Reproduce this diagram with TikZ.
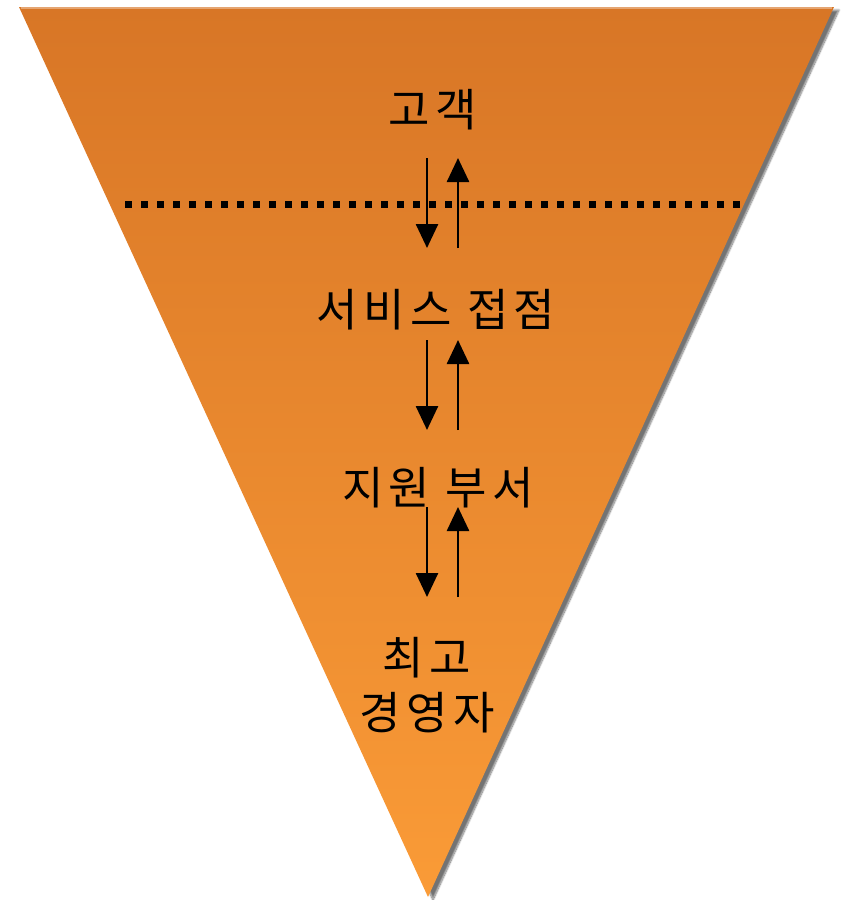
\documentclass[tikz,border=0pt]{standalone}
\usepackage{fontspec}
\newfontfamily\kr[LetterSpace=12]{Noto Sans CJK KR}
\usetikzlibrary{arrows.meta,shadows.blur}
\definecolor{conetop}{RGB}{216,118,38}
\definecolor{conebot}{RGB}{250,155,55}
\begin{document}
\begin{tikzpicture}[x=1pt,y=-1pt,
  lbl/.style={inner sep=0pt,font=\kr\fontsize{45}{55}\selectfont,align=center},
  flow/.style={line width=2.6pt,draw=black,-{Triangle[length=24pt,width=22pt,fill=black]}}]
  \useasboundingbox (0,0) rectangle (843,900);
  % inverted triangle
  \path[blur shadow={shadow xshift=5pt,shadow yshift=-3pt,shadow blur steps=12,shadow opacity=55},
        top color=conetop,bottom color=conebot]
    (19,7) -- (834,7) -- (428,897) -- cycle;
  \draw[white,opacity=0.35,line width=2pt] (21,8) -- (832,8);
  % customer line
  \draw[line width=7pt,dash pattern=on 7pt off 9pt] (125,204) -- (745,204);
  % levels
  \node[lbl] (gogaek) at (433,110) {고객};
  \node[lbl] (jeopjeom) at (436,310) {서비스 접점};
  \node[lbl] (jiwon) at (438,488) {지원 부서};
  \node[lbl] (ceo) at (427,685) {최고\\경영자};
  \coordinate (dn) at (427,0);
  \coordinate (up) at (458,0);
  % flows
  \draw[flow] (gogaek -| dn) ++(0,48) -- ++(0,90);
  \draw[flow] (jeopjeom -| up) ++(0,-62) -- ++(0,-90);
  \draw[flow] (jeopjeom -| dn) ++(0,30) -- ++(0,90);
  \draw[flow] (jiwon -| up) ++(0,-58) -- ++(0,-90);
  \draw[flow] (jiwon -| dn) ++(0,19) -- ++(0,90);
  \draw[flow] (ceo -| up) ++(0,-88) -- ++(0,-90);
\end{tikzpicture}
\end{document}
